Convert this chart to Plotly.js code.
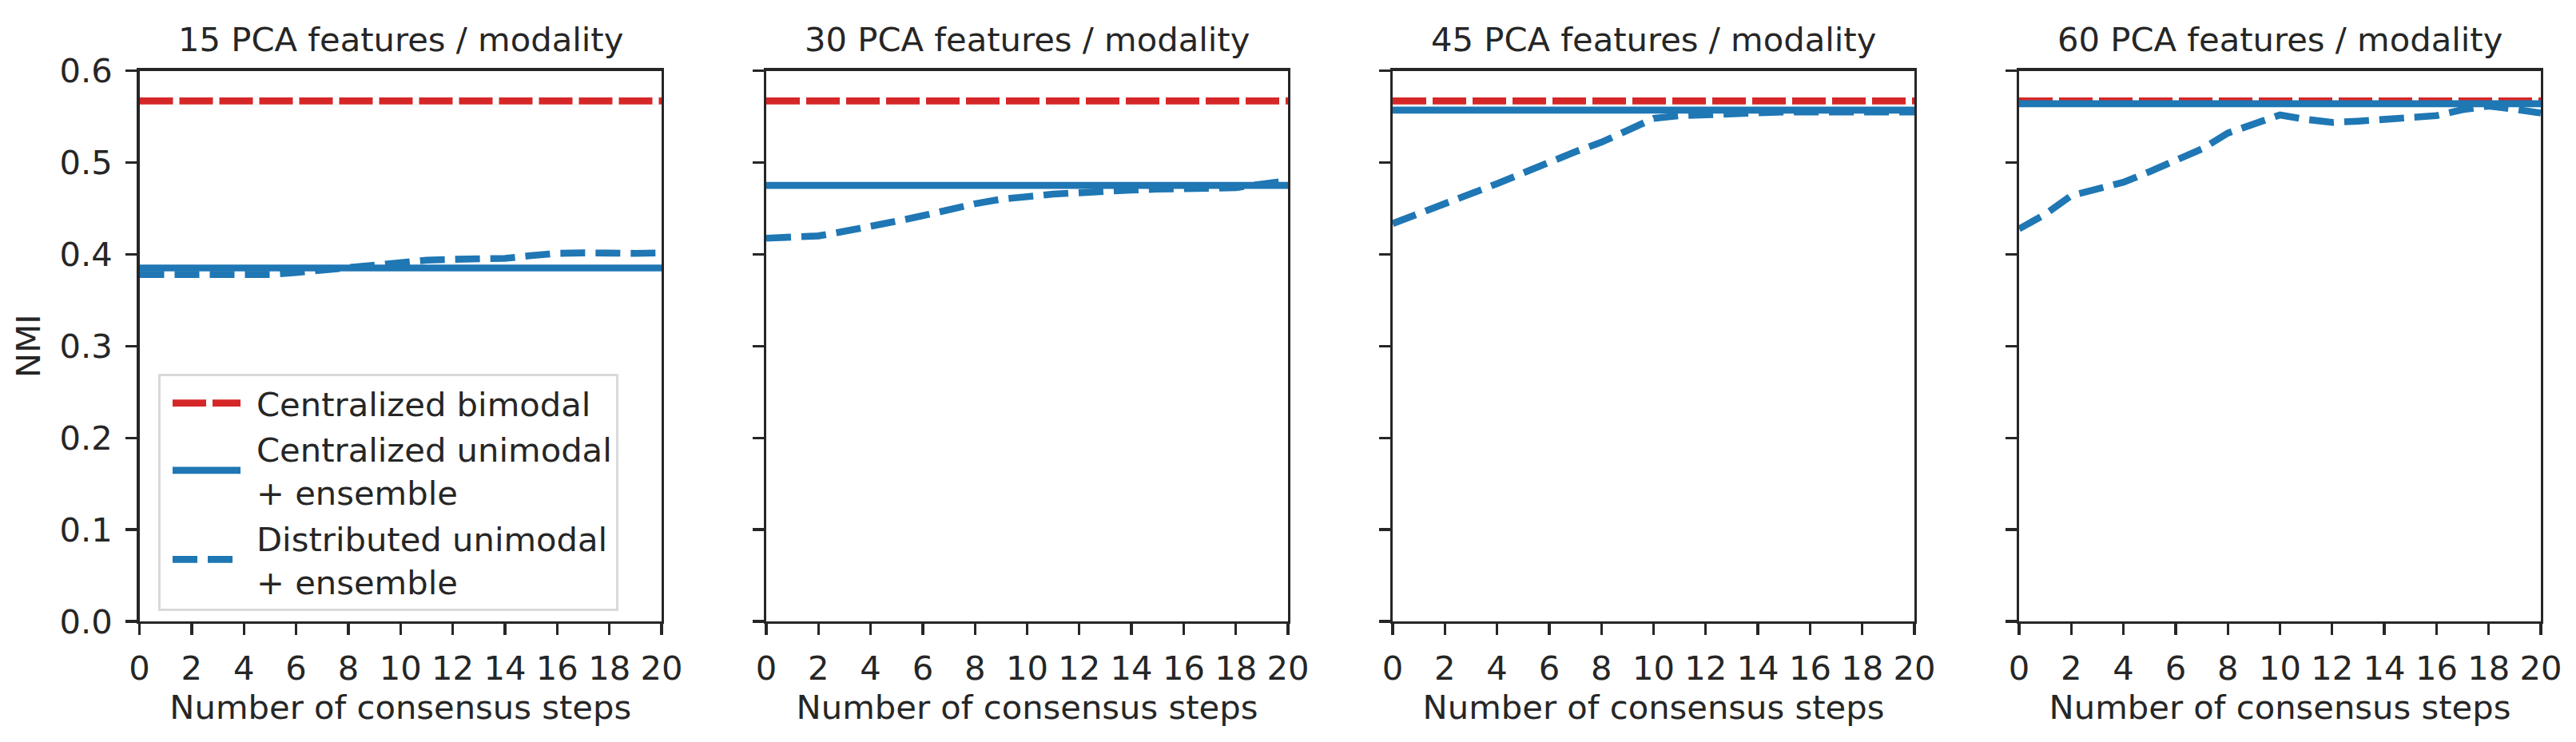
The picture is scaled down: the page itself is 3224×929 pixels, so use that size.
<!DOCTYPE html>
<html>
<head>
<meta charset="utf-8">
<script src="https://cdn.plot.ly/plotly-3.0.1.min.js"></script>
<style>
html,body{margin:0;padding:0;background:#fff;}
#chart{width:3224px;height:929px;}
</style>
</head>
<body>
<div id="chart"></div>
<script>
// ---- data ----
const steps = [0,1,2,3,4,5,6,7,8,9,10,11,12,13,14,15,16,17,18,19,20];
const panelTitles = ["15 PCA features / modality","30 PCA features / modality","45 PCA features / modality","60 PCA features / modality"];
const centralizedBimodal = [0.567, 0.567, 0.567, 0.567];
const centralizedUnimodal = [0.385, 0.475, 0.557, 0.564];
const distributed15 = [0.378,0.378,0.3775,0.377,0.3768,0.378,0.380,0.383,0.386,0.389,0.392,0.3935,0.3945,0.395,0.3955,0.3985,0.401,0.4015,0.4005,0.401,0.4015];
const distributed30 = [0.4175,0.418,0.420,0.425,0.430,0.436,0.442,0.449,0.455,0.460,0.463,0.4655,0.467,0.469,0.470,0.471,0.472,0.472,0.4725,0.4765,0.480];
const distributed45 = [0.4334,0.444,0.455,0.4653,0.4769,0.4885,0.5007,0.5117,0.522,0.535,0.548,0.551,0.5523,0.5538,0.5547,0.555,0.555,0.555,0.554,0.5545,0.555];
const distributed60 = [0.4276,0.4436,0.4639,0.4711,0.4784,0.490,0.503,0.5146,0.532,0.542,0.5518,0.547,0.5436,0.545,0.5465,0.5486,0.551,0.5575,0.5616,0.558,0.5538];
const distributed = [distributed15, distributed30, distributed45, distributed60];
const xTickVals = [0,2,4,6,8,10,12,14,16,18,20];
const yTickVals = [0,0.1,0.2,0.3,0.4,0.5,0.6];
const seriesNames = ["Centralized bimodal","Centralized unimodal<br>+ ensemble","Distributed unimodal<br>+ ensemble"];

// ---- layout geometry ----
const W = 3224, H = 929;
const axLeft = [174.5, 959, 1743, 2527];
const axRight = [828, 1612, 2396, 3180];
const axTop = 88.5, axBottom = 778;
const TXT = '#262626';
const FONT = 'DejaVu Sans';
const FS = 41.7;
const RED = '#d62728', BLUE = '#1f77b4';
const LW = 8.6;

const traces = [];
const layout = {
  width: W, height: H,
  margin: {l:0, r:0, t:0, b:0},
  paper_bgcolor: '#fff', plot_bgcolor: '#fff',
  font: {family: FONT, size: FS, color: TXT},
  showlegend: true,
  legend: {
    x: 198/W, y: 1 - 468/H, xanchor: 'left', yanchor: 'top',
    bgcolor: 'rgba(255,255,255,0.8)', bordercolor: '#d9d9d9', borderwidth: 3,
    font: {family: FONT, size: FS, color: TXT},
    itemwidth: 110, tracegroupgap: 0
  },
  annotations: []
};

const x0 = steps[0], x1 = steps[steps.length-1];
for (let i = 0; i < 4; i++) {
  const sfx = i === 0 ? '' : String(i+1);
  const xa = 'x' + sfx, ya = 'y' + sfx;
  traces.push({
    type:'scatter', mode:'lines', x:[x0, x1], y:[centralizedBimodal[i], centralizedBimodal[i]],
    xaxis: xa, yaxis: ya, name: seriesNames[0], legendgroup:'a', showlegend: i===0,
    line:{color:RED, width:LW, dash:'42px,8px'}, hoverinfo:'skip'
  });
  traces.push({
    type:'scatter', mode:'lines', x:[x0, x1], y:[centralizedUnimodal[i], centralizedUnimodal[i]],
    xaxis: xa, yaxis: ya, name: seriesNames[1], legendgroup:'b', showlegend: i===0,
    line:{color:BLUE, width:LW}, hoverinfo:'skip'
  });
  traces.push({
    type:'scatter', mode:'lines', x: steps, y: distributed[i],
    xaxis: xa, yaxis: ya, name: seriesNames[2], legendgroup:'c', showlegend: i===0,
    line:{color:BLUE, width:LW, dash:'31px,13px'}, hoverinfo:'skip'
  });

  layout['xaxis' + sfx] = {
    domain: [axLeft[i]/W, axRight[i]/W], anchor: ya,
    range: [0, 20], tickmode:'array', tickvals: xTickVals,
    showline:true, mirror:true, linecolor:TXT, linewidth:3.3,
    ticks:'outside', ticklen:14, tickwidth:3.3, tickcolor:TXT,
    showgrid:false, zeroline:false,
    tickfont:{family:FONT, size:FS, color:TXT},
    ticklabelstandoff: 6,
    title:{text:'Number of consensus steps', font:{family:FONT, size:FS, color:TXT}, standoff: 3}
  };
  layout['yaxis' + sfx] = {
    domain: [1 - axBottom/H, 1 - axTop/H], anchor: xa,
    range: [0, 0.6], tickmode:'array', tickvals: yTickVals, tickformat:'.1f',
    showline:true, mirror:true, linecolor:TXT, linewidth:3.3,
    ticks:'outside', ticklen:14, tickwidth:3.3, tickcolor:TXT,
    showgrid:false, zeroline:false, showticklabels: i===0,
    tickfont:{family:FONT, size:FS, color:TXT},
    ticklabelstandoff: 8
  };
  if (i === 0) {
    layout.yaxis.title = {text:'NMI', font:{family:FONT, size:FS, color:TXT}, standoff: 12};
  }
  layout.annotations.push({
    text: panelTitles[i], xref:'paper', yref:'paper',
    x: (axLeft[i]+axRight[i])/2/W, y: 1 - 50/H, xanchor:'center', yanchor:'middle',
    showarrow:false, font:{family:FONT, size:FS, color:TXT}
  });
}

Plotly.newPlot('chart', traces, layout, {displayModeBar:false, staticPlot:true}).then(() => {
  document.querySelectorAll('.legend .legendlines path').forEach(p => {
    p.setAttribute('d', 'M15,0h85');
  });
});
</script>
</body>
</html>
